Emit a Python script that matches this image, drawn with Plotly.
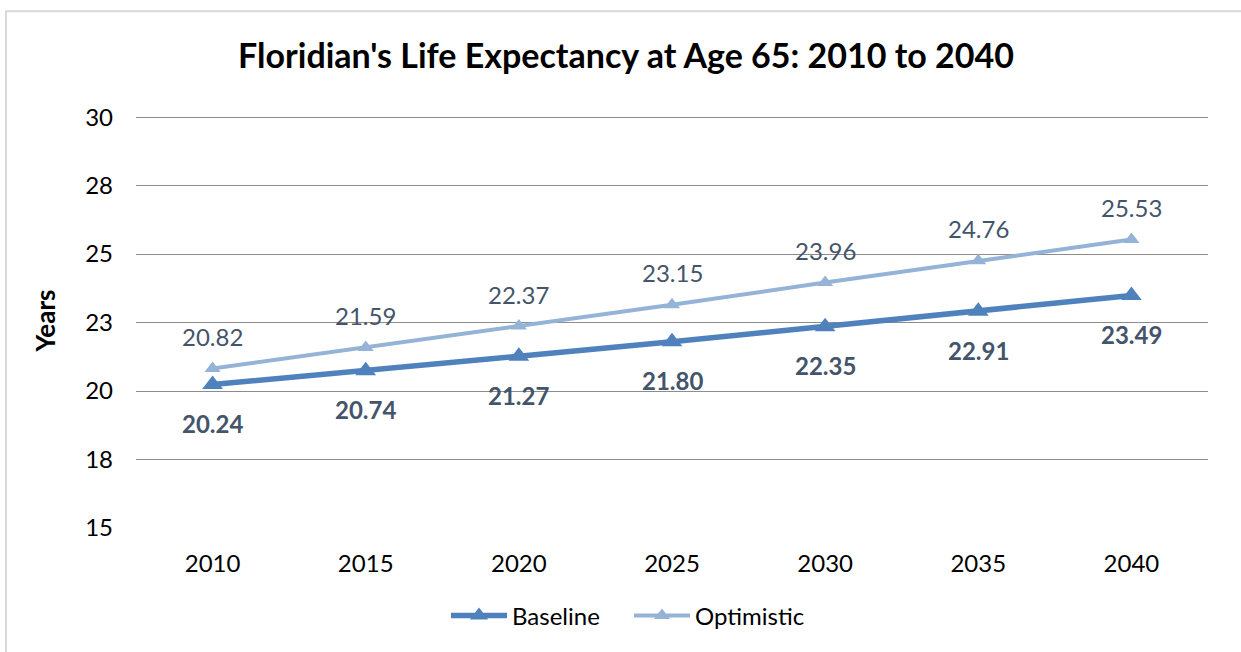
import plotly.graph_objects as go

years = ["2010", "2015", "2020", "2025", "2030", "2035", "2040"]
baseline = [20.24, 20.74, 21.27, 21.80, 22.35, 22.91, 23.49]
optimistic = [20.82, 21.59, 22.37, 23.15, 23.96, 24.76, 25.53]
ytick_vals = [15, 17.5, 20, 22.5, 25, 27.5, 30]
ytick_text = ["15", "18", "20", "23", "25", "28", "30"]

W, H = 1241, 652
L, R, B = 136, 33, 124
YMIN, YMAX, YTOP = 15, 30, 30.15
unit = (H - B - 117) / (YMAX - YMIN)          # px per year, gridline 30 at y=117
T = 117 - (YTOP - YMAX) * unit
pw, ph = W - L - R, H - T - B
FONT = "Lato, Open Sans, sans-serif"

fig = go.Figure()
fig.add_trace(go.Scatter(
    x=years, y=baseline, name="Baseline", mode="lines+markers",
    line=dict(color="#4F81BD", width=5.5),
    marker=dict(symbol="triangle-up", size=18, color="#4F81BD"),
))
fig.add_trace(go.Scatter(
    x=years, y=optimistic, name="Optimistic", mode="lines+markers",
    line=dict(color="#95B3D7", width=4),
    marker=dict(symbol="triangle-up", size=14, color="#95B3D7"),
))

ann = []
for i, v in enumerate(baseline):
    ann.append(dict(x=i, y=v, xref="x", yref="y", text=f"<b>{v:.2f}</b>", showarrow=False,
                    yshift=-39, font=dict(family=FONT, size=24, color="#44546A")))
for i, v in enumerate(optimistic):
    ann.append(dict(x=i, y=v, xref="x", yref="y", text=f"{v:.2f}", showarrow=False,
                    yshift=32, font=dict(family=FONT, size=24, color="#44546A")))

fig.add_shape(type="rect", xref="paper", yref="paper",
              x0=(6 - L) / pw, x1=(W + 5 - L) / pw,
              y0=(H - B - (H + 5)) / ph, y1=(H - B - 11) / ph,
              line=dict(color="#D9D9D9", width=2), layer="below")

fig.update_layout(
    width=W, height=H,
    margin=dict(l=L, r=R, t=T, b=B),
    paper_bgcolor="white", plot_bgcolor="white",
    title=dict(text="<b>Floridian's Life Expectancy at Age 65: 2010 to 2040</b>",
               x=626 / W, xanchor="center", y=1 - 56 / H, yanchor="middle",
               font=dict(family=FONT, size=34, color="black")),
    xaxis=dict(type="category", range=[-0.5, 6.5], showgrid=False, zeroline=False,
               showline=False, ticks="", tickfont=dict(family=FONT, size=24, color="black"),
               ticklabelstandoff=19),
    yaxis=dict(range=[YMIN, YTOP], tickvals=ytick_vals, ticktext=ytick_text,
               showgrid=True, gridcolor="#8C8C8C", gridwidth=1, zeroline=False,
               showline=False, ticks="", ticklabelstandoff=22,
               tickfont=dict(family=FONT, size=24, color="black"),
               title=dict(text="<b>Years</b>", standoff=22,
                          font=dict(family=FONT, size=26, color="black"))),
    legend=dict(orientation="h", x=(629 - L) / pw, xanchor="center",
                y=-(616 - (H - B)) / ph, yanchor="middle",
                itemwidth=56, entrywidth=112,
                font=dict(family=FONT, size=24, color="black")),
    annotations=ann,
    showlegend=True,
)

fig.write_html("out.html", config={"displayModeBar": False},
               post_script="document.body.style.margin='0';")
